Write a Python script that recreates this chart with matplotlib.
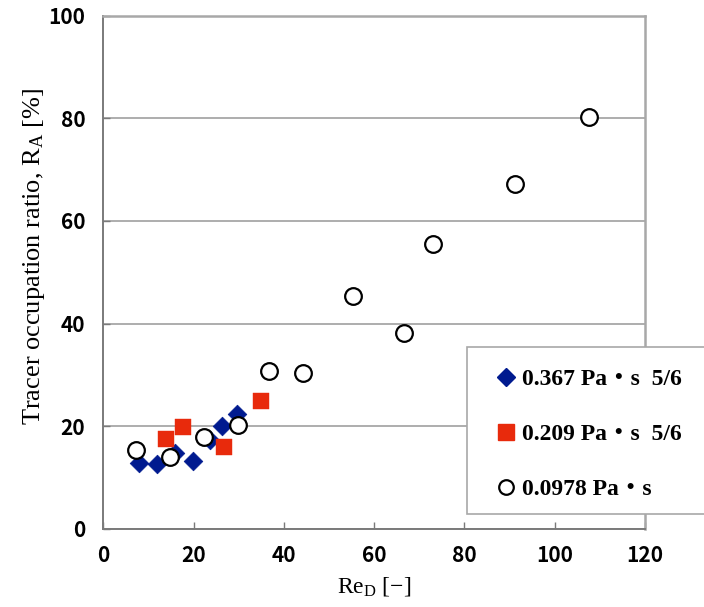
import matplotlib
matplotlib.use("Agg")
import matplotlib.pyplot as plt
from matplotlib.lines import Line2D
from matplotlib.patches import Rectangle

# Data
re_0367 = [8.0, 11.9, 15.9, 19.9, 23.6, 26.4, 29.7]
ra_0367 = [12.9, 12.7, 14.7, 13.1, 17.3, 20.1, 22.4]

re_0209 = [13.9, 17.6, 26.8, 34.9]
ra_0209 = [17.4, 19.8, 15.9, 24.8]

re_00978 = [7.2, 14.8, 22.3, 29.9, 36.7, 44.2, 55.3, 66.7, 73.0, 91.1, 107.5]
ra_00978 = [15.3, 14.0, 17.8, 20.2, 30.8, 30.3, 45.4, 38.2, 55.4, 67.1, 80.3]

labels = ["0.367 Pa\u30fbs  5/6", "0.209 Pa\u30fbs  5/6", "0.0978 Pa\u30fbs"]
xticks = [0, 20, 40, 60, 80, 100, 120]
yticks = [0, 20, 40, 60, 80, 100]

plt.rcParams['mathtext.fontset'] = 'custom'
plt.rcParams['mathtext.rm'] = 'Liberation Serif'
plt.rcParams['mathtext.it'] = 'Liberation Serif:italic'

W, H = 704, 607
fig = plt.figure(figsize=(W/100, H/100), dpi=100)
ax = fig.add_axes([103.3/W, 1-528.7/H, (645-103.3)/W, (528.7-15.7)/H])

ax.set_xlim(0, 120)
ax.set_ylim(0, 100)
ax.set_xticks(xticks)
ax.set_yticks(yticks)

ax.grid(axis='y', color='#a0a0a0', linewidth=1.2, zorder=0)
ax.set_axisbelow(True)

navy = '#001a8f'
red = '#e82a0c'
ax.scatter(re_0367, ra_0367, marker='D', s=9.5**2, color=navy, edgecolors=navy, linewidths=0.5, zorder=3)
ax.scatter(re_0209, ra_0209, marker='s', s=11.5**2, color=red, edgecolors=red, linewidths=0.3, zorder=4)
ax.scatter(re_00978, ra_00978, marker='o', s=12**2, facecolors='white', edgecolors='black', linewidths=1.6, zorder=5)

for side in ['left', 'bottom']:
    ax.spines[side].set_color('#7a7a7a')
    ax.spines[side].set_linewidth(1.4)
for side in ['top', 'right']:
    ax.spines[side].set_color('#a8a8a8')
    ax.spines[side].set_linewidth(1.8)

tickfont = dict(family='Noto Sans CJK JP', weight='bold', size=15)
ax.tick_params(axis='both', direction='in', length=5, width=1, color='#7a7a7a')
ax.tick_params(axis='x', pad=12)
ax.tick_params(axis='y', pad=13)
ax.set_xticklabels([str(t) for t in xticks], fontdict=tickfont)
ax.set_yticklabels([str(t) for t in yticks], fontdict=tickfont)

ax.set_xlabel('Re$_\\mathrm{D}$ [\u2212]', family='Liberation Serif', size=17, labelpad=6)
ax.set_ylabel('Tracer occupation ratio, R$_\\mathrm{A}$ [%]', family='Liberation Serif', size=19)
ax.yaxis.set_label_coords(-0.104, 0.53)

# legend frame drawn in figure pixels
fig.patches.append(Rectangle((467.3/W, 1-514/H), (730-467.3)/W, (514-347.3)/H,
                             transform=fig.transFigure, facecolor='white',
                             edgecolor='#a8a8a8', linewidth=1.2, zorder=10, clip_on=False))

handles = [
    Line2D([], [], linestyle='none', marker='D', markersize=9.5, color=navy, markeredgecolor=navy),
    Line2D([], [], linestyle='none', marker='s', markersize=11, color=red, markeredgecolor=red),
    Line2D([], [], linestyle='none', marker='o', markersize=10.5, markerfacecolor='white', markeredgecolor='black', markeredgewidth=1.6),
]
leg = fig.legend(handles, labels, loc='upper left', bbox_to_anchor=(495.4/W, 1-368.5/H),
                 bbox_transform=fig.transFigure, frameon=False,
                 prop=dict(family=['Liberation Serif', 'Noto Sans CJK JP'], weight='bold', size=17),
                 borderaxespad=0, borderpad=0, labelspacing=1.42, handlelength=0.9,
                 handletextpad=0.21)
leg.set_zorder(11)

fig.savefig('out.png', dpi=100)
